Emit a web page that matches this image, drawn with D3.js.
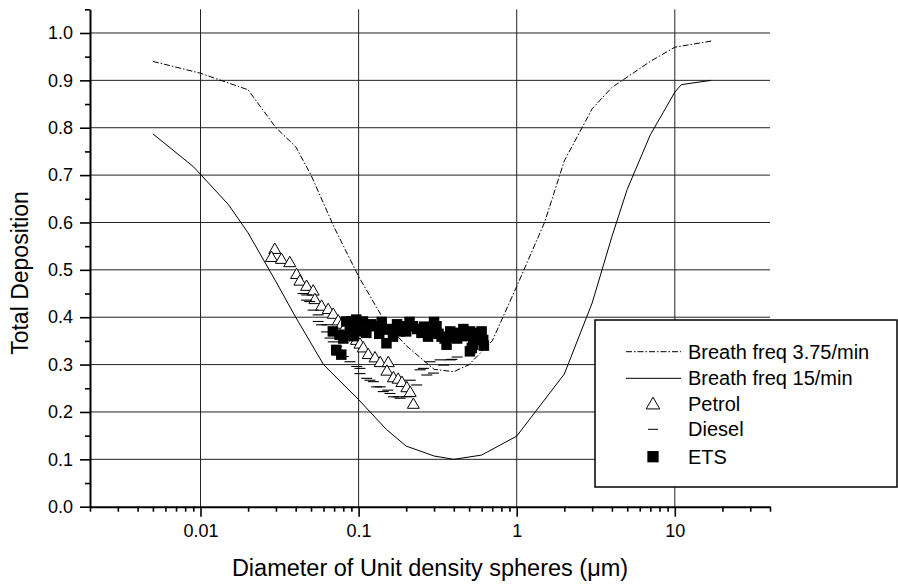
<!DOCTYPE html>
<html><head><meta charset="utf-8">
<script src="https://cdn.jsdelivr.net/npm/d3@7"></script>
<style>body{margin:0;background:#fff} text{font-family:"Liberation Sans",Arial,sans-serif}</style>
</head><body><svg id="c" width="898" height="585"></svg>
<script>
// ---- data ----
const freq375X = [0.005,0.01,0.02,0.03,0.04,0.05,0.07,0.1,0.15,0.2,0.3,0.4,0.5,0.7,1,1.5,2,3,4,7,10,17];
const freq375Y = [0.94,0.915,0.88,0.80,0.76,0.70,0.59,0.486,0.385,0.34,0.29,0.285,0.30,0.35,0.465,0.60,0.73,0.84,0.885,0.94,0.97,0.983];
const freq15X = [0.005,0.009,0.015,0.02,0.03,0.04,0.06,0.1,0.15,0.2,0.3,0.4,0.6,1,2,3,4,5,7,10,11,17];
const freq15Y = [0.787,0.718,0.638,0.578,0.475,0.40,0.30,0.226,0.163,0.128,0.107,0.10,0.109,0.149,0.28,0.43,0.57,0.67,0.785,0.875,0.891,0.90];
const petrolX = [0.0295,0.0281,0.0325,0.0367,0.0405,0.0425,0.0469,0.0516,0.0529,0.0583,0.0642,0.0691,0.0743,0.0781,0.082,0.087,0.092,0.097,0.102,0.107,0.115,0.127,0.137,0.154,0.151,0.166,0.178,0.188,0.202,0.212,0.222];
const petrolY = [0.542,0.525,0.521,0.514,0.489,0.475,0.464,0.454,0.436,0.422,0.415,0.405,0.391,0.384,0.377,0.37,0.36,0.35,0.342,0.334,0.320,0.313,0.303,0.303,0.285,0.271,0.268,0.261,0.250,0.240,0.215];
const dieselX = [0.0446,0.047,0.0469,0.0491,0.0516,0.0555,0.0555,0.0583,0.0628,0.063,0.0659,0.0691,0.0726,0.073,0.080,0.0882,0.0973,0.102,0.102,0.1125,0.118,0.124,0.130,0.137,0.143,0.153,0.158,0.166,0.178,0.183,0.202,0.212,0.233,0.245,0.257,0.270,0.283,0.297,0.328,0.345,0.380,0.389,0.42];
const dieselY = [0.450,0.447,0.436,0.433,0.415,0.405,0.391,0.384,0.369,0.384,0.356,0.348,0.338,0.320,0.317,0.306,0.296,0.292,0.281,0.271,0.267,0.264,0.253,0.253,0.243,0.246,0.239,0.232,0.232,0.229,0.232,0.267,0.257,0.289,0.292,0.278,0.306,0.282,0.310,0.299,0.310,0.311,0.316];
const etsX = [0.0687,0.0722,0.0777,0.0758,0.0836,0.0899,0.0967,0.1065,0.1119,0.0967,0.1295,0.146,0.150,0.165,0.182,0.191,0.2207,0.2497,0.275,0.311,0.335,0.360,0.397,0.437,0.506,0.531,0.506,0.585,0.614,
  0.080,0.088,0.093,0.103,0.120,0.135,0.140,0.160,0.175,0.200,0.210,0.235,0.260,0.290,0.300,0.320,0.350,0.380,0.420,0.460,0.480,0.550,0.600,0.620,0.520];
const etsY = [0.370,0.331,0.321,0.363,0.391,0.391,0.395,0.391,0.367,0.370,0.381,0.374,0.345,0.359,0.370,0.381,0.381,0.367,0.359,0.381,0.359,0.342,0.359,0.367,0.370,0.342,0.328,0.367,0.352,
  0.355,0.375,0.360,0.375,0.385,0.365,0.390,0.375,0.385,0.370,0.390,0.375,0.380,0.370,0.390,0.365,0.355,0.370,0.355,0.375,0.360,0.360,0.370,0.340,0.335];
const yMajor = [0,0.1,0.2,0.3,0.4,0.5,0.6,0.7,0.8,0.9,1.0];
const yMinor = [0.05,0.15,0.25,0.35,0.45,0.55,0.65,0.75,0.85,0.95,1.05];
const xMajor = [0.01,0.1,1,10];
const xMinor = [0.002,0.003,0.004,0.005,0.006,0.007,0.008,0.009,0.02,0.03,0.04,0.05,0.06,0.07,0.08,0.09,0.2,0.3,0.4,0.5,0.6,0.7,0.8,0.9,2,3,4,5,6,7,8,9,20,30,40];
const legendLabels = ["Breath freq 3.75/min","Breath freq 15/min","Petrol","Diesel","ETS"];
const xTitle = "Diameter of Unit density spheres (\u03BCm)";
const yTitle = "Total Deposition";

// ---- chart ----
const svg = d3.select("#c");
const x = d3.scaleLog().domain([0.002, 40]).range([90, 770]);
const y = d3.scaleLinear().domain([0, 1.05]).range([506.7, 9.3]);

// grid
const grid = svg.append("g").attr("stroke","#222").attr("stroke-width",1);
grid.selectAll("line.h").data(yMajor.slice(1)).join("line")
  .attr("x1",x(0.002)).attr("x2",x(40)).attr("y1",d=>y(d)).attr("y2",d=>y(d));
grid.selectAll("line.v").data(xMajor).join("line").attr("class","v")
  .attr("x1",d=>x(d)).attr("x2",d=>x(d)).attr("y1",y(0)).attr("y2",y(1.05));

// curves
const line = d3.line().x(d=>x(d[0])).y(d=>y(d[1]));
svg.append("path").datum(freq375X.map((v,i)=>[v,freq375Y[i]]))
  .attr("d",line).attr("fill","none").attr("stroke","#000").attr("stroke-width",1)
  .attr("stroke-dasharray","6,2,1.5,2");
svg.append("path").datum(freq15X.map((v,i)=>[v,freq15Y[i]]))
  .attr("d",line).attr("fill","none").attr("stroke","#000").attr("stroke-width",1);

// scatter
const tri = d3.symbol(d3.symbolTriangle, 62)();
const triL = d3.symbol(d3.symbolTriangle, 80)();
const sq = d3.symbol(d3.symbolSquare, 110)();
const sqL = d3.symbol(d3.symbolSquare, 128)();
svg.append("g").selectAll("path").data(petrolX.map((v,i)=>[v,petrolY[i]])).join("path")
  .attr("d",tri).attr("transform",d=>`translate(${x(d[0])},${y(d[1])})`)
  .attr("fill","#fff").attr("stroke","#000").attr("stroke-width",1);
svg.append("g").selectAll("path").data(dieselX.map((v,i)=>[v,dieselY[i]])).join("path")
  .attr("d","M-5.5,0H5.5").attr("transform",d=>`translate(${x(d[0])},${y(d[1])})`)
  .attr("stroke","#000").attr("stroke-width",1.1);
svg.append("g").selectAll("path").data(etsX.map((v,i)=>[v,etsY[i]])).join("path")
  .attr("d",sq).attr("transform",d=>`translate(${x(d[0])},${y(d[1])})`)
  .attr("fill","#000");

// axes
svg.append("g").attr("transform",`translate(${x(0.002)},0)`)
  .call(d3.axisLeft(y).tickValues(yMajor).tickSize(10).tickSizeOuter(0).tickPadding(7).tickFormat(d3.format(".1f")));
svg.append("g").attr("transform",`translate(${x(0.002)},0)`)
  .call(d3.axisLeft(y).tickValues(yMinor).tickSize(5).tickSizeOuter(0).tickFormat(""))
  .select(".domain").remove();
svg.append("g").attr("transform",`translate(0,${y(0)})`)
  .call(d3.axisBottom(x).tickValues(xMajor).tickSize(10).tickSizeOuter(0).tickPadding(8).tickFormat(d=>String(d)));
svg.append("g").attr("transform",`translate(0,${y(0)})`)
  .call(d3.axisBottom(x).tickValues(xMinor).tickSize(5).tickSizeOuter(0).tickFormat(""))
  .select(".domain").remove();
svg.selectAll(".domain").attr("stroke","#000").attr("stroke-width",2);
svg.selectAll(".tick line").attr("stroke","#000").attr("stroke-width",1.6);
svg.selectAll(".tick text").attr("font-size",18).attr("fill","#000")
  .attr("font-family","'Liberation Sans',Arial,sans-serif");

// titles
svg.append("text").attr("x",430).attr("y",576).attr("text-anchor","middle")
  .attr("font-size",23.5).text(xTitle);
svg.append("text").attr("transform","translate(28,273) rotate(-90)").attr("text-anchor","middle")
  .attr("font-size",23).text(yTitle);

// legend
const lg = svg.append("g");
lg.append("rect").attr("x",595).attr("y",320).attr("width",302).attr("height",167)
  .attr("fill","#fff").attr("stroke","#000").attr("stroke-width",1.5);
const rowY = [351.7,378.3,404,429.3,456.7];
lg.append("line").attr("x1",626).attr("x2",681).attr("y1",rowY[0]).attr("y2",rowY[0])
  .attr("stroke","#000").attr("stroke-dasharray","6,2,1.5,2");
lg.append("line").attr("x1",626).attr("x2",681).attr("y1",rowY[1]).attr("y2",rowY[1]).attr("stroke","#000");
lg.append("path").attr("d",triL).attr("transform",`translate(653,${rowY[2]+1})`)
  .attr("fill","#fff").attr("stroke","#000");
lg.append("path").attr("d","M-5,0H5").attr("transform",`translate(653,${rowY[3]})`).attr("stroke","#000");
lg.append("path").attr("d",sqL).attr("transform",`translate(653,${rowY[4]})`).attr("fill","#000");
lg.selectAll("text").data(legendLabels).join("text")
  .attr("x",688).attr("y",(d,i)=>rowY[i]+7).attr("font-size",20).text(d=>d);
</script></body></html>
